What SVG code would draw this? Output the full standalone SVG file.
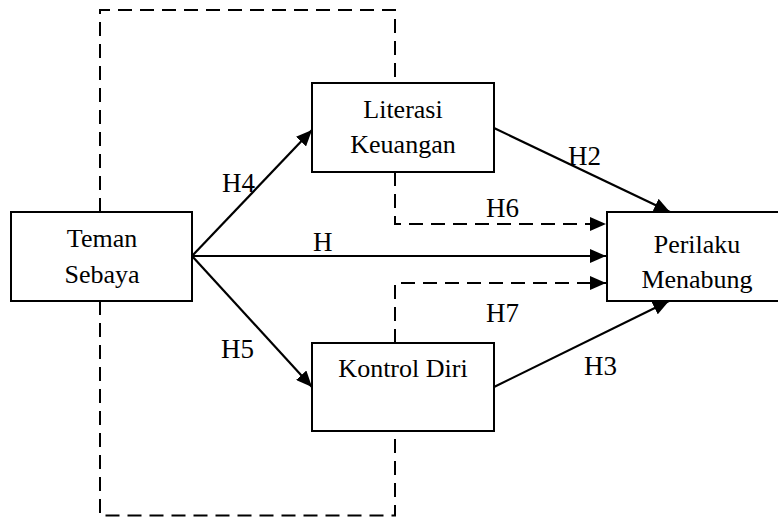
<svg xmlns="http://www.w3.org/2000/svg" width="778" height="517" viewBox="0 0 778 517">
<style>
.box{fill:#fff;stroke:#000;stroke-width:2}
text{font-family:'Liberation Serif','Times New Roman',serif;fill:#000}
.t{font-size:26px;text-anchor:middle}
.lbl{font-size:27px}
.solid{fill:none;stroke:#000;stroke-width:2.2}
.dash{fill:none;stroke:#000;stroke-width:2;stroke-dasharray:14 8}
</style>
<defs>
<marker id="ah" markerUnits="userSpaceOnUse" markerWidth="16" markerHeight="14" refX="16" refY="7" orient="auto">
<path d="M0,0 L16,7 L0,14 z" fill="#000"/>
</marker>
</defs>
<rect width="778" height="517" fill="#fff"/>
<g id="connectors">
<path class="dash" d="M100,212 V10 H395 V83"/>
<path class="dash" d="M100,301 V515.5 H395 V431"/>
<path class="dash" d="M395,172 V224 H606" marker-end="url(#ah)"/>
<path class="dash" d="M395,343 V283 H606" marker-end="url(#ah)"/>
<path class="solid" d="M192,256 H606" marker-end="url(#ah)"/>
<path class="solid" d="M192,256 L312,130" marker-end="url(#ah)"/>
<path class="solid" d="M192,256 L312,387" marker-end="url(#ah)"/>
<path class="solid" d="M494,128 L670,212" marker-end="url(#ah)"/>
<path class="solid" d="M494,387 L669,301" marker-end="url(#ah)"/>
<text class="lbl" x="222" y="192">H4</text>
<text class="lbl" x="313" y="251">H</text>
<text class="lbl" x="568" y="165">H2</text>
<text class="lbl" x="486" y="217">H6</text>
<text class="lbl" x="486" y="322">H7</text>
<text class="lbl" x="584" y="375">H3</text>
<text class="lbl" x="221" y="358">H5</text>
</g>
<g id="teman-sebaya">
<rect class="box" x="11" y="212" width="181" height="89"/>
<text class="t" x="102" y="247">Teman</text>
<text class="t" x="102" y="283">Sebaya</text>
</g>
<g id="literasi-keuangan">
<rect class="box" x="312" y="83" width="182" height="89"/>
<text class="t" x="403" y="118">Literasi</text>
<text class="t" x="403" y="153">Keuangan</text>
</g>
<g id="kontrol-diri">
<rect class="box" x="312" y="343" width="182" height="88"/>
<text class="t" x="403" y="377">Kontrol Diri</text>
</g>
<g id="perilaku-menabung">
<rect class="box" x="607" y="212" width="172" height="89"/>
<text class="t" x="697" y="253">Perilaku</text>
<text class="t" x="697" y="288">Menabung</text>
</g>
</svg>
